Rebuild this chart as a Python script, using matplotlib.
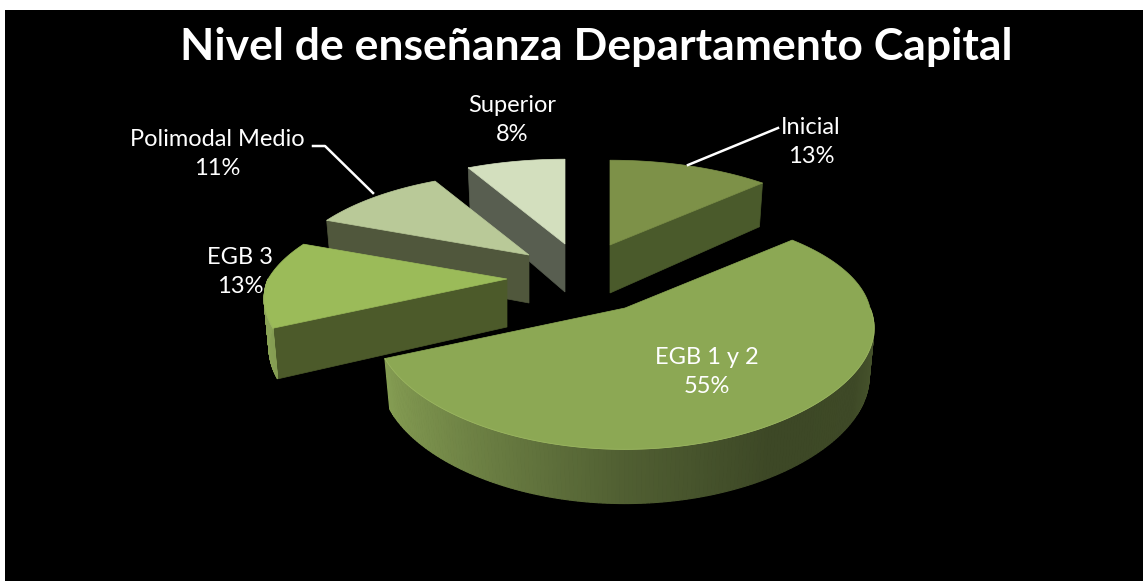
import numpy as np
import matplotlib
matplotlib.use('Agg')
import matplotlib.pyplot as plt
from matplotlib.colors import to_rgb

labels = ['Inicial', 'EGB 1 y 2', 'EGB 3', 'Polimodal Medio', 'Superior']
values = [13, 55, 13, 11, 8]
title = 'Nivel de enseñanza Departamento Capital'

top_colors = ['#7d9148', '#8ca854', '#9bbb59', '#b9c998', '#d3dfbe']
cut_colors = ['#4a5a2b', '#4a5a2b', '#4c5a2a', '#50573c', '#585e50']
# where each slice's tip ends up after exploding, pixels
tips = [(610, 245), (625, 308), (507, 279), (529, 255), (565, 244)]
draw_order = [4, 3, 0, 2, 1]
radius_scale = [1, 1, 0.975, 0.97, 1]
persp_back = [0.25, 0.1, 0.25, 0.25, 0.25]

rx, ry = 245, 106
persp_front = 0.25
persp_x_front = 0.18
depth = 48


def project(ang, tip, scale, back):
    u, v = np.sin(ang), np.cos(ang)
    sc = 1 / (1 + np.where(v > 0, back, persp_front) * v)
    scx = 1 / (1 + np.where(v > 0, back, persp_x_front) * v)
    return tip[0] + rx * scale * u * scx, tip[1] - ry * scale * v * sc


def wall_h(v):
    return depth * (1 - 0.13 * v)


def wall_color(ang, base):
    # rim gets darker going left to right
    u = np.sin(ang)
    f = np.interp(u, [-1, -0.5, 0, 0.5, 0.85, 1], [1.0, 0.78, 0.58, 0.44, 0.45, 0.52])
    return tuple(np.array(to_rgb(base)) * f)


fig = plt.figure(figsize=(11.43, 5.81), dpi=100, facecolor='white')
ax = fig.add_axes([0, 0, 1, 1])
ax.set_xlim(0, 1143)
ax.set_ylim(581, 0)
ax.axis('off')
ax.add_patch(plt.Rectangle((5, 10), 1138, 571, color='black', lw=0))

edges = np.cumsum([0] + values) / sum(values) * 2 * np.pi

for n, i in enumerate(draw_order):
    a0, a1 = edges[i], edges[i + 1]
    tip = tips[i]
    angs = np.linspace(a0, a1, 240)
    xs, ys = project(angs, tip, radius_scale[i], persp_back[i])
    hs = wall_h(np.cos(angs))
    xb = tip[0] + (xs - tip[0]) * 0.98  # lower edge pulls in a little
    yb = ys + hs
    # cut faces, only the ones facing us
    visible = []
    if np.sin(a0) < -1e-9:
        visible.append(0)
    if np.sin(a1) > 1e-9:
        visible.append(-1)
    for k in visible:
        ax.fill([tip[0], xs[k], xb[k], tip[0]],
                [tip[1], ys[k], yb[k], tip[1] + depth],
                color=cut_colors[i], lw=0.5, zorder=n * 10 + 1)
    # rim, front half only
    for j in range(len(angs) - 1):
        mid = (angs[j] + angs[j + 1]) / 2
        if np.cos(mid) > 0:
            continue
        ax.fill([xs[j], xs[j + 1], xb[j + 1], xb[j]],
                [ys[j], ys[j + 1], yb[j + 1], yb[j]],
                color=wall_color(mid, '#8aa356'), lw=0.8, zorder=n * 10 + 2)
    ax.fill(np.r_[tip[0], xs], np.r_[tip[1], ys], color=top_colors[i], lw=0.5, zorder=n * 10 + 3)
    front = np.cos(angs) < 0
    ax.plot(xs[front], ys[front], color='#9ab560', lw=0.6, zorder=n * 10 + 4)

font = 'Lato'
ax.text(596, 47, title, color='white', fontsize=32, fontweight='bold', family=font,
        ha='center', va='center', zorder=100)
label_pos = [(811, 142), (707, 372), (240, 272), (217, 154), (512, 120)]
for lab, val, pos in zip(labels, values, label_pos):
    ax.text(pos[0], pos[1], f'{lab}\n{val}%', color='white', fontsize=17, family=font,
            ha='center', va='center', linespacing=1.5, zorder=100)

ax.plot([688, 778], [165, 128], color='white', lw=1.8, zorder=99)
ax.plot([313, 325, 373], [146, 146, 193], color='white', lw=1.8, zorder=99)

fig.savefig('out.png', dpi=100)
